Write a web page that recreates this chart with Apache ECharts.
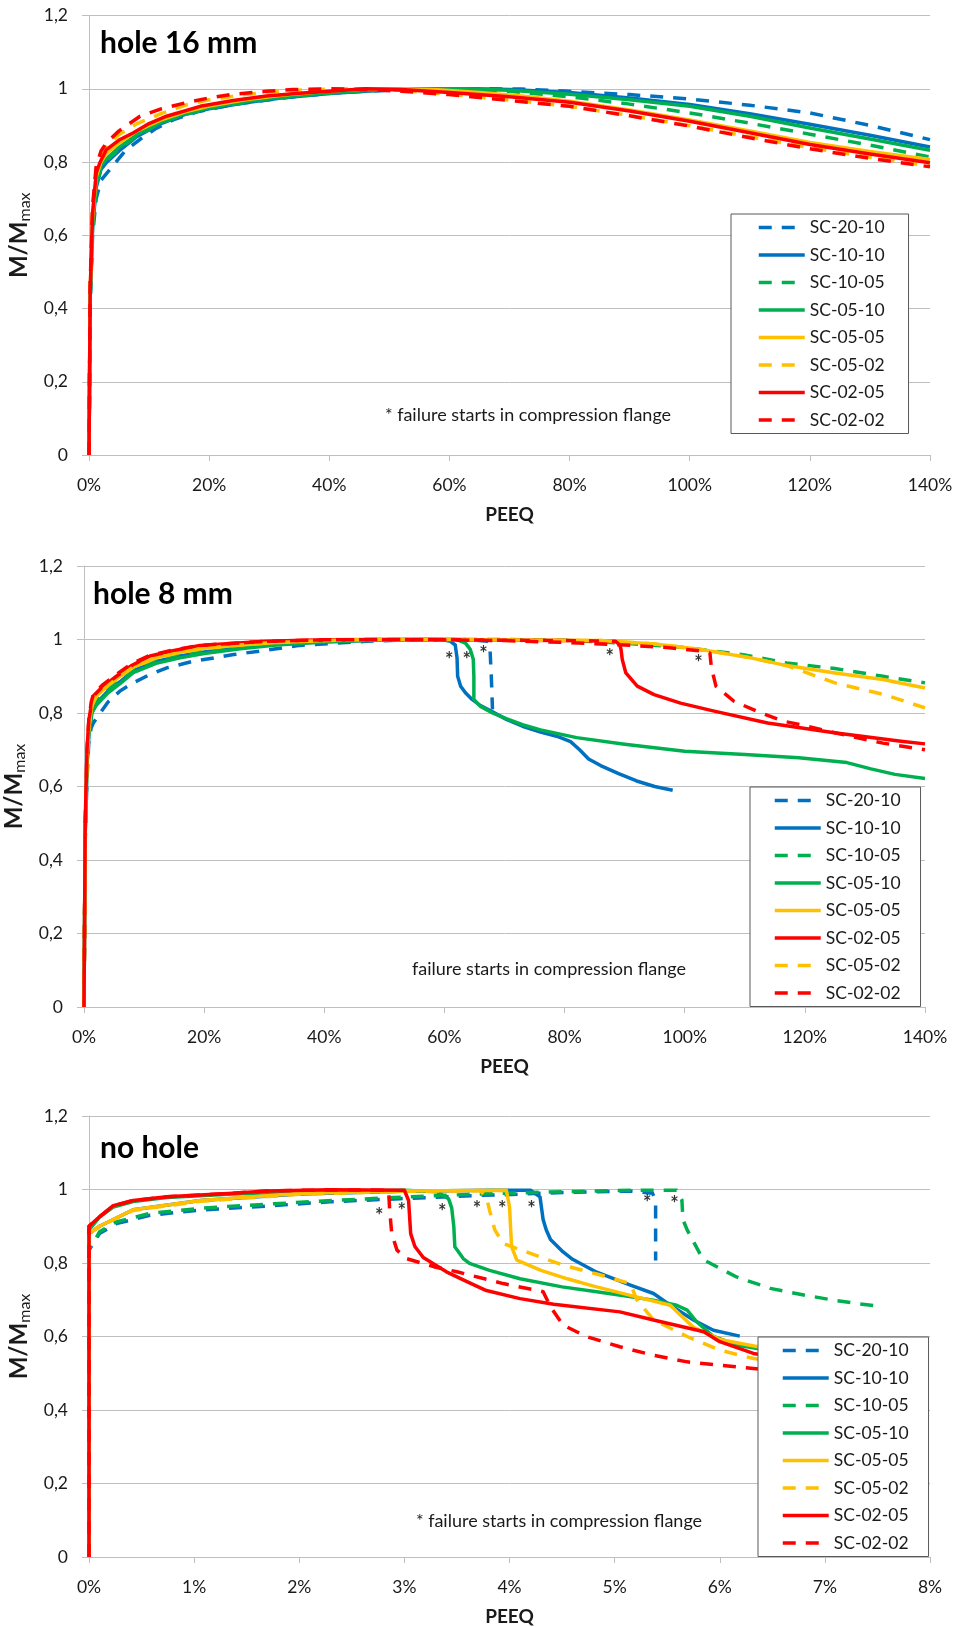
<!DOCTYPE html>
<html>
<head>
<meta charset="utf-8">
<script src="https://cdn.jsdelivr.net/npm/echarts@6/dist/echarts.min.js"></script>
<style>
  html, body { margin: 0; padding: 0; background: #fff; }
  #chart { width: 957px; height: 1627px; }
</style>
</head>
<body>
<div id="chart"></div>
<script>
// ---- Series names, colours and line styles ----
const seriesNames = ['SC-20-10', 'SC-10-10', 'SC-10-05', 'SC-05-10', 'SC-05-05', 'SC-05-02', 'SC-02-05', 'SC-02-02'];
const legendOrderA = ['SC-20-10', 'SC-10-10', 'SC-10-05', 'SC-05-10', 'SC-05-05', 'SC-05-02', 'SC-02-05', 'SC-02-02'];
const legendOrderB = ['SC-20-10', 'SC-10-10', 'SC-10-05', 'SC-05-10', 'SC-05-05', 'SC-02-05', 'SC-05-02', 'SC-02-02'];
const seriesColors = { 'SC-20-10': '#0070C0', 'SC-10-10': '#0070C0', 'SC-10-05': '#00B050', 'SC-05-10': '#00B050',
                       'SC-05-05': '#FFC000', 'SC-05-02': '#FFC000', 'SC-02-05': '#FF0000', 'SC-02-02': '#FF0000' };
const seriesDashed = { 'SC-20-10': true, 'SC-10-10': false, 'SC-10-05': true, 'SC-05-10': false,
                       'SC-05-05': false, 'SC-05-02': true, 'SC-02-05': false, 'SC-02-02': true };

// ---- Tick values ----
const yTicks = [0, 0.2, 0.4, 0.6, 0.8, 1.0, 1.2];
const xTicksWide = [0, 20, 40, 60, 80, 100, 120, 140];   // PEEQ in %
const xTicksNarrow = [0, 1, 2, 3, 4, 5, 6, 7, 8];          // PEEQ in %

// ---- Panel titles and notes ----
const panelTitles = ['hole 16 mm', 'hole 8 mm', 'no hole'];
const panelNotes = ['* failure starts in compression flange', 'failure starts in compression flange', '* failure starts in compression flange'];

// ---- hole 16 mm : [PEEQ %, M/Mmax] ----
const h16_2010 = [[0,0],[0.2,0.42],[0.6,0.6],[1.2,0.7],[2,0.75],[3.5,0.78],[6,0.83],[8.5,0.862],[11,0.89],[14,0.915],[18,0.937],[24,0.957],[30,0.97],[35,0.98],[42,0.99],[50,0.996],[58,0.999],[66,1.0],[72,0.999],[80,0.993],[90,0.984],[100,0.972],[110,0.955],[120,0.934],[130,0.9],[140,0.861]];
const h16_1010 = [[0,0],[0.2,0.43],[0.6,0.62],[1.2,0.73],[2,0.78],[3,0.8],[5,0.83],[8,0.87],[12,0.905],[16,0.93],[20,0.945],[26,0.962],[32,0.975],[40,0.987],[48,0.995],[56,0.999],[64,1.0],[70,0.998],[80,0.99],[90,0.975],[100,0.957],[110,0.932],[120,0.903],[130,0.873],[140,0.841]];
const h16_1005 = [[0,0],[0.2,0.43],[0.6,0.62],[1.2,0.73],[2,0.785],[3,0.805],[5,0.835],[8,0.872],[12,0.907],[16,0.93],[20,0.947],[26,0.963],[32,0.976],[40,0.988],[48,0.996],[56,1.0],[62,0.999],[70,0.993],[80,0.978],[90,0.958],[100,0.934],[110,0.906],[120,0.876],[130,0.846],[140,0.814]];
const h16_0510 = [[0,0],[0.2,0.44],[0.6,0.63],[1.2,0.74],[2,0.79],[3,0.81],[5,0.84],[8,0.875],[12,0.908],[16,0.932],[20,0.948],[26,0.965],[32,0.977],[40,0.989],[48,0.997],[56,1.0],[62,1.0],[70,0.996],[80,0.985],[90,0.97],[100,0.952],[110,0.925],[120,0.893],[130,0.863],[140,0.832]];
const h16_0505 = [[0,0],[0.2,0.45],[0.6,0.65],[1.2,0.76],[2,0.8],[3,0.825],[5,0.852],[8,0.885],[12,0.915],[16,0.937],[20,0.953],[26,0.97],[32,0.982],[40,0.994],[46,0.999],[52,1.0],[58,0.997],[65,0.99],[72,0.98],[80,0.966],[90,0.942],[100,0.915],[110,0.885],[120,0.853],[130,0.829],[140,0.807]];
const h16_0502 = [[0,0],[0.2,0.46],[0.6,0.67],[1.2,0.78],[2,0.82],[3,0.845],[5,0.875],[8,0.905],[12,0.932],[16,0.955],[20,0.97],[26,0.984],[32,0.994],[38,0.998],[44,1.0],[50,0.997],[56,0.99],[64,0.979],[72,0.966],[80,0.952],[90,0.927],[100,0.899],[110,0.869],[120,0.839],[130,0.813],[140,0.789]];
const h16_0205 = [[0,0],[0.2,0.45],[0.6,0.66],[1.2,0.77],[1.8,0.798],[2.9,0.834],[5,0.86],[7.4,0.88],[10,0.905],[12.9,0.925],[18.5,0.952],[24,0.968],[29.5,0.98],[35,0.988],[40.6,0.994],[46,1.0],[52,0.998],[60,0.99],[70,0.978],[80,0.963],[90,0.939],[100,0.911],[110,0.88],[120,0.848],[130,0.822],[140,0.798]];
const h16_0202 = [[0,0],[0.2,0.47],[0.6,0.68],[1.2,0.79],[2,0.83],[2.9,0.852],[5,0.885],[8.5,0.925],[12,0.945],[16.2,0.962],[20,0.975],[24,0.985],[29.5,0.993],[34,0.998],[40,1.0],[46,0.998],[52,0.993],[60,0.984],[70,0.968],[80,0.952],[90,0.926],[100,0.898],[110,0.866],[120,0.836],[130,0.81],[140,0.787]];

// ---- hole 8 mm ----
const h8_2010 = [[0,0],[0.2,0.45],[0.5,0.62],[0.8,0.72],[1.2,0.76],[1.55,0.773],[2.7,0.8],[4,0.83],[6,0.86],[8.2,0.882],[11,0.905],[13.8,0.923],[18,0.94],[24.9,0.959],[30,0.97],[36,0.984],[42,0.99],[47,0.995],[52,0.998],[58,1.0],[64,1.0],[67.3,0.995],[67.6,0.97],[67.8,0.9],[68,0.81]];
const h8_1010 = [[0,0],[0.2,0.47],[0.5,0.66],[0.8,0.74],[1.3,0.8],[2,0.825],[4,0.86],[6,0.885],[8.2,0.915],[12,0.94],[16,0.955],[20,0.966],[26,0.978],[32,0.987],[40,0.994],[48,0.998],[55,1.0],[59.6,1.0],[61,0.995],[61.8,0.985],[62.1,0.95],[62.2,0.9],[62.7,0.873],[63.5,0.855],[64.6,0.837],[66,0.82],[68,0.803],[70.4,0.782],[73,0.764],[76,0.748],[79,0.735],[81,0.722],[82.5,0.7],[84,0.675],[86,0.657],[89,0.635],[92,0.615],[95,0.6],[98,0.59]];
const h8_1005 = [[0,0],[0.2,0.47],[0.5,0.66],[0.8,0.74],[1.3,0.8],[2,0.83],[4,0.865],[6,0.89],[8.2,0.92],[12,0.945],[16,0.96],[20,0.97],[26,0.98],[32,0.988],[40,0.995],[48,0.999],[56,1.0],[70,1.0],[80,0.998],[90,0.99],[100,0.978],[110,0.958],[117,0.936],[125,0.921],[133,0.9],[140,0.882]];
const h8_0510 = [[0,0],[0.2,0.47],[0.5,0.66],[0.8,0.74],[1.3,0.8],[2,0.82],[4,0.855],[6,0.88],[8.2,0.91],[12,0.935],[16,0.95],[20,0.962],[26,0.975],[32,0.985],[40,0.993],[48,0.998],[55,1.0],[62,1.0],[63.5,0.99],[64.3,0.973],[64.8,0.946],[64.9,0.9],[64.9,0.837],[66,0.818],[68,0.8],[70.4,0.784],[73,0.768],[76,0.754],[82,0.733],[90,0.715],[100,0.696],[110,0.687],[119,0.678],[127,0.665],[131,0.648],[135,0.633],[140,0.622]];
const h8_0505 = [[0,0],[0.2,0.48],[0.5,0.68],[0.8,0.76],[1.3,0.82],[2,0.845],[4,0.875],[6,0.9],[8.2,0.925],[12,0.95],[16,0.965],[20,0.976],[26,0.985],[32,0.992],[40,0.997],[48,1.0],[60,1.0],[75,0.998],[86,0.997],[95,0.988],[102.7,0.973],[111,0.95],[117,0.929],[125,0.909],[133,0.891],[140,0.868]];
const h8_0502 = [[0,0],[0.2,0.48],[0.5,0.68],[0.8,0.76],[1.3,0.82],[2,0.845],[4,0.875],[6,0.9],[8.2,0.925],[12,0.95],[16,0.965],[20,0.976],[26,0.985],[32,0.992],[40,0.997],[48,1.0],[60,1.0],[75,0.998],[86,0.997],[95,0.988],[102.7,0.973],[111,0.95],[117,0.929],[120.4,0.909],[125,0.882],[133.2,0.85],[140,0.814]];
const h8_0205 = [[0,0],[0.2,0.5],[0.5,0.7],[0.8,0.78],[1.2,0.82],[1.55,0.846],[3,0.87],[5.4,0.9],[8,0.93],[11,0.955],[15,0.97],[19.3,0.984],[25,0.99],[30.4,0.995],[40,0.999],[50,1.0],[60,0.999],[70,0.998],[80,0.997],[88.5,0.995],[89.2,0.985],[89.4,0.973],[89.6,0.946],[90.2,0.909],[92.1,0.873],[94.9,0.85],[99.3,0.827],[104.9,0.805],[113.8,0.773],[124.9,0.746],[136,0.723],[140,0.716]];
const h8_0202 = [[0,0],[0.2,0.5],[0.5,0.7],[0.8,0.78],[1.2,0.83],[1.55,0.85],[3,0.875],[5.4,0.905],[8,0.935],[11,0.957],[15,0.972],[19.3,0.984],[25,0.99],[30.4,0.995],[40,0.999],[50,1.0],[60,0.999],[70,0.997],[80,0.992],[90,0.985],[97,0.978],[102.7,0.969],[104.2,0.963],[104.4,0.93],[104.6,0.913],[105.2,0.873],[108.2,0.832],[112.7,0.8],[116.6,0.777],[119.3,0.768],[127.7,0.736],[133,0.718],[140,0.7]];

// ---- no hole ----
const nh_2010 = [[0,0],[0,0.835],[0.1,0.88],[0.26,0.907],[0.58,0.93],[1.06,0.944],[1.69,0.955],[2.32,0.967],[2.96,0.975],[3.72,0.984],[3.97,0.986],[4.51,0.992],[5.15,0.996],[5.36,0.99],[5.39,0.97],[5.39,0.807]];
const nh_1010 = [[0,0],[0,0.88],[0.1,0.9],[0.42,0.945],[1.06,0.97],[2,0.988],[3,0.995],[3.8,0.998],[4.2,0.998],[4.29,0.98],[4.32,0.918],[4.35,0.89],[4.39,0.864],[4.51,0.83],[4.6,0.81],[4.83,0.775],[5.15,0.74],[5.37,0.717],[5.53,0.685],[5.75,0.645],[5.94,0.617],[6.19,0.601]];
const nh_1005 = [[0,0],[0,0.84],[0.04,0.853],[0.1,0.885],[0.26,0.912],[0.58,0.935],[1.06,0.949],[1.69,0.96],[2.32,0.97],[2.96,0.979],[3.72,0.988],[4.51,0.994],[5.15,0.998],[5.59,0.998],[5.64,0.971],[5.65,0.918],[5.69,0.89],[5.81,0.826],[5.85,0.808],[6.16,0.762],[6.48,0.731],[6.8,0.713],[7.08,0.699],[7.3,0.69],[7.5,0.683]];
const nh_0510 = [[0,0],[0,0.89],[0.1,0.925],[0.23,0.952],[0.42,0.967],[0.74,0.978],[1.37,0.988],[2,0.994],[3,0.998],[3.31,0.994],[3.42,0.975],[3.45,0.95],[3.47,0.9],[3.48,0.844],[3.56,0.812],[3.62,0.799],[3.81,0.78],[4.1,0.757],[4.5,0.735],[4.83,0.722],[5.37,0.699],[5.59,0.685],[5.69,0.672],[5.78,0.64],[5.94,0.6],[6.16,0.577],[6.4,0.565]];
const nh_0505 = [[0,0],[0,0.88],[0.1,0.9],[0.42,0.945],[1.06,0.97],[2,0.989],[3,0.996],[3.97,0.998],[4.0,0.953],[4.02,0.844],[4.07,0.808],[4.3,0.78],[4.55,0.757],[4.8,0.737],[5.15,0.712],[5.53,0.685],[5.62,0.66],[5.75,0.625],[6.0,0.592],[6.4,0.57]];
const nh_0502 = [[0,0],[0,0.88],[0.1,0.9],[0.42,0.943],[1.06,0.968],[2,0.987],[3,0.995],[3.72,0.997],[3.78,0.98],[3.81,0.944],[3.86,0.89],[3.94,0.853],[4.2,0.826],[4.51,0.794],[4.83,0.77],[5.15,0.744],[5.21,0.7],[5.37,0.645],[5.69,0.6],[6.0,0.563],[6.32,0.54],[6.45,0.535]];
const nh_0205 = [[0,0],[0,0.9],[0.105,0.927],[0.23,0.956],[0.42,0.97],[0.74,0.98],[1.37,0.99],[1.69,0.996],[2.3,0.999],[3.0,0.998],[3.04,0.97],[3.06,0.88],[3.1,0.845],[3.18,0.815],[3.28,0.797],[3.4,0.776],[3.59,0.75],[3.78,0.725],[4.1,0.703],[4.42,0.688],[5.05,0.667],[5.37,0.645],[5.85,0.613],[6.0,0.586],[6.32,0.554],[6.45,0.548]];
const nh_0202 = [[0,0],[0,0.9],[0.105,0.927],[0.23,0.955],[0.42,0.97],[0.74,0.98],[1.37,0.99],[1.69,0.996],[2.3,0.999],[2.85,0.998],[2.86,0.944],[2.88,0.88],[2.93,0.835],[3.02,0.812],[3.28,0.79],[3.5,0.776],[3.94,0.744],[4.32,0.722],[4.39,0.681],[4.51,0.631],[4.73,0.6],[5.05,0.572],[5.37,0.549],[5.69,0.531],[6.0,0.522],[6.32,0.513],[6.45,0.51]];

// ---- failure markers (*) ----
const stars8 = [[60.8,0.954],[63.7,0.954],[66.5,0.970],[87.5,0.962],[102.3,0.945]];
const starsNo = [[2.76,0.936],[2.975,0.95],[3.36,0.948],[3.69,0.957],[3.93,0.957],[4.21,0.955],[5.31,0.974],[5.57,0.969]];

const panelData = [
  { 'SC-20-10': h16_2010, 'SC-10-10': h16_1010, 'SC-10-05': h16_1005, 'SC-05-10': h16_0510,
    'SC-05-05': h16_0505, 'SC-05-02': h16_0502, 'SC-02-05': h16_0205, 'SC-02-02': h16_0202 },
  { 'SC-20-10': h8_2010, 'SC-10-10': h8_1010, 'SC-10-05': h8_1005, 'SC-05-10': h8_0510,
    'SC-05-05': h8_0505, 'SC-05-02': h8_0502, 'SC-02-05': h8_0205, 'SC-02-02': h8_0202 },
  { 'SC-20-10': nh_2010, 'SC-10-10': nh_1010, 'SC-10-05': nh_1005, 'SC-05-10': nh_0510,
    'SC-05-05': nh_0505, 'SC-05-02': nh_0502, 'SC-02-05': nh_0205, 'SC-02-02': nh_0202 }
];
const panelStars = [null, stars8, starsNo];
const panelLegendOrder = [legendOrderA, legendOrderB, legendOrderA];
const panelXTicks = [xTicksWide, xTicksWide, xTicksNarrow];

// ---- layout ----
const FONT = 'Lato, "Open Sans", sans-serif';
const TEXT = '#1a1a1a';
const AXIS_GREY = '#bfbfbf';
const LINE_W = 3.5;
const DASH = [13, 10];
const grids = [
  { left: 89, top: 15.5, width: 841, height: 439.5 },
  { left: 84, top: 566, width: 841, height: 441 },
  { left: 89, top: 1116, width: 841, height: 441 }
];
const legendBoxes = [
  { left: 731, top: 214, padding: [4.5, 24, 4.5, 26] },
  { left: 750, top: 787, padding: [4.5, 20, 4.5, 23] },
  { left: 758, top: 1337, padding: [4.5, 20, 4.5, 23] }
];
const titlePos = [[100, 28.5], [93, 579.5], [100, 1133]];
const notePos = [[528, 415], [549, 969.5], [559, 1521.5]];

const fmtY = v => v === 0 ? '0' : String(Math.round(v * 10) / 10).replace('.', ',');

const option = {
  animation: false,
  backgroundColor: '#fff',
  textStyle: { fontFamily: FONT },
  grid: grids.map(g => Object.assign({ outerBoundsMode: 'none', containLabel: false }, g)),
  xAxis: panelXTicks.map((ticks, i) => ({
    type: 'value', gridIndex: i,
    min: ticks[0], max: ticks[ticks.length - 1], interval: ticks[1] - ticks[0],
    name: 'PEEQ', nameLocation: 'middle', nameGap: 50,
    nameTextStyle: { fontFamily: FONT, fontSize: 19, fontWeight: 'bold', color: TEXT },
    axisLine: { show: true, lineStyle: { color: AXIS_GREY, width: 1 } },
    axisTick: { show: true, length: 6, lineStyle: { color: AXIS_GREY } },
    splitLine: { show: false },
    axisLabel: { margin: 21, fontFamily: FONT, fontSize: 17.5, color: TEXT, formatter: v => v + '%' }
  })),
  yAxis: grids.map((g, i) => ({
    type: 'value', gridIndex: i,
    min: yTicks[0], max: yTicks[yTicks.length - 1], interval: 0.2,
    name: '{a|M/M}{b|max}', nameLocation: 'middle', nameRotate: 90, nameGap: 47,
    nameTextStyle: { rich: {
      a: { fontFamily: FONT, fontSize: 24, fontWeight: 'bold', color: TEXT, lineHeight: 28 },
      b: { fontFamily: FONT, fontSize: 16, color: TEXT, verticalAlign: 'bottom', lineHeight: 16 }
    } },
    axisLine: { show: true, lineStyle: { color: AXIS_GREY, width: 1 } },
    axisTick: { show: true, length: 7, lineStyle: { color: AXIS_GREY } },
    splitLine: { show: true, lineStyle: { color: AXIS_GREY, width: 1 } },
    axisLabel: { margin: 21, fontFamily: FONT, fontSize: 17.5, color: TEXT, formatter: fmtY }
  })),
  legend: legendBoxes.map((b, i) => ({
    orient: 'vertical', left: b.left, top: b.top,
    padding: b.padding, itemWidth: 46, itemHeight: 14, itemGap: 9.5,
    borderColor: '#595959', borderWidth: 1, backgroundColor: '#fff',
    itemStyle: { opacity: 0 },
    lineStyle: { width: LINE_W },
    textStyle: { fontFamily: FONT, fontSize: 17.5, color: TEXT },
    selectedMode: false,
    data: panelLegendOrder[i]
  })),
  graphic: [].concat(
    panelTitles.map((t, i) => ({
      type: 'text', left: titlePos[i][0], top: titlePos[i][1], silent: true,
      style: { text: t, font: 'bold 30px ' + FONT, fill: '#000' }
    })),
    panelNotes.map((t, i) => ({
      type: 'text', x: notePos[i][0], y: notePos[i][1], silent: true,
      style: { text: t, font: '18px ' + FONT, fill: TEXT, align: 'center', verticalAlign: 'middle' }
    }))
  ),
  series: []
};

panelData.forEach((pd, i) => {
  panelLegendOrder[i].forEach(name => {
    option.series.push({
      type: 'line', name: name, xAxisIndex: i, yAxisIndex: i,
      data: pd[name], symbol: 'none', showSymbol: false, smooth: false,
      lineStyle: { color: seriesColors[name], width: LINE_W, type: seriesDashed[name] ? DASH : 'solid', join: 'round' },
      itemStyle: { color: seriesColors[name] },
      silent: true
    });
  });
  if (panelStars[i]) {
    option.series.push({
      type: 'scatter', xAxisIndex: i, yAxisIndex: i, data: panelStars[i],
      symbolSize: 1, itemStyle: { color: 'rgba(0,0,0,0)' }, silent: true, z: 5,
      label: { show: true, formatter: '*', position: 'inside', offset: [0, 4], fontFamily: FONT, fontSize: 20, fontWeight: 'bold', color: '#000' }
    });
  }
});

const chart = echarts.init(document.getElementById('chart'), null, { renderer: 'canvas' });
chart.setOption(option);
</script>
</body>
</html>
